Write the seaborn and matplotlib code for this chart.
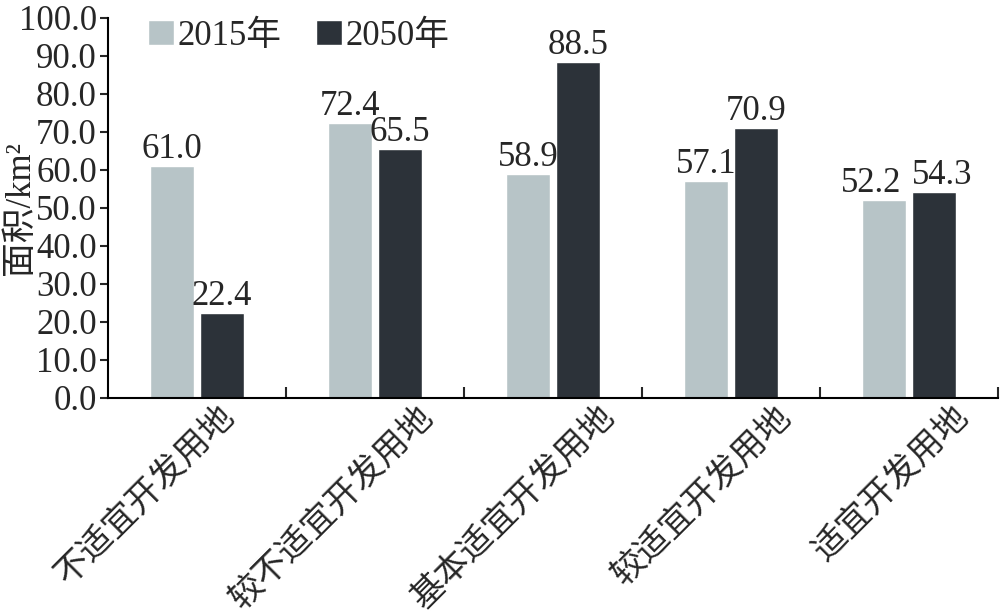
import matplotlib
matplotlib.use("Agg")
import matplotlib.pyplot as plt
import matplotlib.transforms as mtransforms
import seaborn as sns
import pandas as pd
from matplotlib.ticker import FixedLocator

categories = ["不适宜开发用地", "较不适宜开发用地", "基本适宜开发用地", "较适宜开发用地", "适宜开发用地"]
years = ["2015年", "2050年"]
area_2015 = [61.0, 72.4, 58.9, 57.1, 52.2]
area_2050 = [22.4, 65.5, 88.5, 70.9, 54.3]
colors = ["#b7c4c7", "#2c3239"]

df = pd.DataFrame({
    "category": categories * 2,
    "year": [years[0]] * len(categories) + [years[1]] * len(categories),
    "area": area_2015 + area_2050,
})

sns.set_style("ticks")
plt.rcParams["font.family"] = ["Liberation Serif", "Noto Sans CJK SC"]
plt.rcParams["axes.unicode_minus"] = False

fig = plt.figure(figsize=(10, 6.16), dpi=100)
ax = fig.add_axes([0.108, 0.354, 0.890, 0.617])

sns.barplot(data=df, x="category", y="area", hue="year", palette=colors,
            width=0.56, gap=0.12, ax=ax, saturation=1, legend=True)

# value labels; the last group is nudged apart like in the original
nudge = [[0, 0, 0, 0, -9], [0, 0, 0, 0, 6]]
for k, cont in enumerate(ax.containers):
    anns = ax.bar_label(cont, fmt="%.1f", fontsize=25, padding=0)
    for ann, dx in zip(anns, nudge[k]):
        ann.xyann = (dx, 0)

ax.set_ylim(0, 100)
ax.set_xlim(-0.5, len(categories) - 0.5)
ax.set_yticks(range(0, 101, 10))
ax.set_yticklabels([f"{v:.1f}" for v in range(0, 101, 10)], fontsize=25)
ax.tick_params(axis="y", direction="out", length=6, width=1.5, pad=2)
ax.set_xticks(range(len(categories)))
ax.set_xticklabels(categories, rotation=45, ha="right", rotation_mode="anchor", fontsize=24.5)
ax.tick_params(axis="x", which="major", length=0, pad=2)
ax.xaxis.set_minor_locator(FixedLocator([i + 0.5 for i in range(len(categories))]))
ax.tick_params(axis="x", which="minor", direction="in", length=8, width=1.5)

shifts = [22, 42, 46, 44, 44]
for lab, sx in zip(ax.get_xticklabels(), shifts):
    lab.set_transform(lab.get_transform() + mtransforms.ScaledTranslation(sx / 100, 0, fig.dpi_scale_trans))

ax.set_xlabel("")
ax.set_ylabel("面积/km²", fontsize=25)
ax.yaxis.set_label_coords(-0.08, 0.5)

for s in ["top", "right"]:
    ax.spines[s].set_visible(False)
for s in ["left", "bottom"]:
    ax.spines[s].set_linewidth(1.5)
    ax.spines[s].set_color("black")

ax.legend(loc="upper left", bbox_to_anchor=(0.045, 0.995), ncol=2, frameon=False,
          fontsize=25, handlelength=0.75, handleheight=0.75, handletextpad=0.1,
          columnspacing=1.0, borderaxespad=0, borderpad=0)

fig.savefig("out.png", dpi=100)
